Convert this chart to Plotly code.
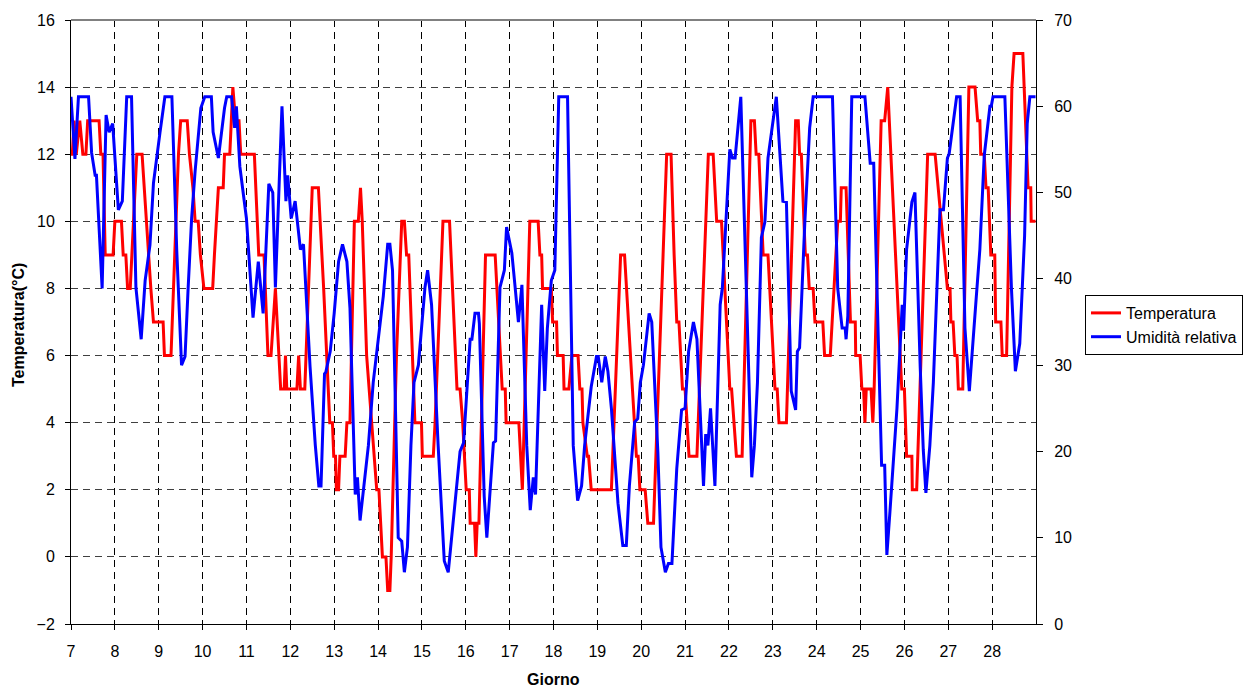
import plotly.graph_objects as go

# ---- data ----
temp_day = [7.0, 7.03, 7.07, 7.12, 7.2, 7.27, 7.34, 7.38, 7.64, 7.68, 7.73, 7.78, 7.96, 8.0, 8.15, 8.19,
            8.25, 8.29, 8.35, 8.45, 8.5, 8.62, 8.67, 8.72, 8.76, 8.82, 8.88, 8.95, 9.1, 9.13, 9.28, 9.45,
            9.5, 9.65, 9.7, 9.78, 9.83, 9.9, 9.95, 10.03, 10.23, 10.27, 10.31, 10.36, 10.47, 10.5, 10.62,
            10.69, 10.75, 10.83, 10.87, 11.18, 11.28, 11.4, 11.49, 11.56, 11.66, 11.78, 11.86, 11.89, 11.92,
            12.15, 12.19, 12.23, 12.33, 12.5, 12.64, 12.76, 12.9, 12.96, 12.99, 13.03, 13.05, 13.1, 13.13,
            13.25, 13.29, 13.36, 13.46, 13.55, 13.6, 13.64, 13.74, 13.97, 14.02, 14.1, 14.18, 14.22, 14.27,
            14.3, 14.42, 14.54, 14.6, 14.65, 14.7, 14.84, 14.99, 15.01, 15.26, 15.3, 15.48, 15.63, 15.8,
            15.87, 15.93, 16.01, 16.08, 16.1, 16.2, 16.23, 16.26, 16.3, 16.45, 16.67, 16.83, 16.9, 16.92,
            17.21, 17.29, 17.46, 17.65, 17.69, 17.73, 17.75, 17.95, 17.98, 18.07, 18.09, 18.22, 18.24, 18.35,
            18.42, 18.56, 18.6, 18.65, 18.67, 18.77, 18.8, 18.86, 19.32, 19.53, 19.62, 19.89, 19.93, 19.97,
            20.09, 20.15, 20.28, 20.58, 20.68, 20.75, 20.81, 20.86, 20.94, 21.0, 21.09, 21.27, 21.53, 21.64,
            21.72, 21.83, 22.02, 22.06, 22.12, 22.17, 22.3, 22.5, 22.58, 22.62, 22.68, 22.78, 22.89, 23.05,
            23.1, 23.14, 23.31, 23.52, 23.58, 23.61, 23.65, 23.74, 23.79, 23.83, 23.92, 23.96, 24.14, 24.18,
            24.31, 24.48, 24.54, 24.56, 24.67, 24.77, 24.88, 24.89, 24.99, 25.03, 25.07, 25.1, 25.13, 25.24,
            25.28, 25.31, 25.47, 25.55, 25.62, 25.94, 26.0, 26.05, 26.17, 26.18, 26.28, 26.53, 26.7, 26.98,
            27.04, 27.06, 27.11, 27.15, 27.2, 27.23, 27.33, 27.47, 27.61, 27.67, 27.72, 27.74, 27.82, 27.86,
            27.91, 27.97, 28.06, 28.08, 28.2, 28.23, 28.33, 28.45, 28.5, 28.7, 28.82, 28.88, 28.89, 28.99]
temp_val = [12, 12, 13, 12, 13, 12, 12, 13, 13, 12, 12, 9, 9, 10, 10, 9,
            9, 8, 8, 11, 12, 12, 11, 10, 9, 8, 7, 7, 7, 6, 6, 12,
            13, 13, 12, 11, 10, 10, 9, 8, 8, 9, 10, 11, 11, 12, 12,
            14, 13, 13, 12, 12, 9, 9, 6, 6, 8, 5, 5, 6, 5,
            5, 6, 5, 5, 11, 11, 8, 4, 4, 3, 3, 2, 2, 3,
            3, 4, 4, 10, 10, 11, 10, 6, 2, 2, 0, 0, -1, -1,
            0, 6, 10, 10, 9, 9, 4, 4, 3, 3, 4, 10, 10, 5,
            5, 4, 2, 2, 1, 1, 0, 1, 1, 9, 9, 5, 5, 4,
            4, 2, 10, 10, 9, 9, 8, 8, 7, 7, 6, 6, 5, 5,
            6, 6, 5, 5, 4, 3, 3, 2, 2, 9, 9, 3, 3, 2,
            2, 1, 1, 12, 12, 9, 7, 7, 5, 5, 3, 3, 12, 12,
            10, 10, 5, 5, 4, 3, 3, 13, 13, 12, 12, 9, 9, 5,
            5, 4, 4, 13, 13, 12, 12, 9, 9, 8, 8, 7, 7, 6,
            6, 10, 10, 11, 11, 7, 7, 6, 6, 5, 5, 4, 5, 5,
            4, 5, 13, 13, 14, 5, 5, 3, 3, 2, 2, 12, 12, 8,
            8, 7, 7, 6, 6, 5, 5, 14, 14, 13, 13, 12, 12, 11,
            11, 9, 9, 7, 7, 6, 6, 14, 15, 15, 11, 11, 10, 10]

hum_day = [7.0, 7.09, 7.17, 7.4, 7.47, 7.55, 7.58, 7.71, 7.8, 7.87, 7.95, 8.08, 8.17, 8.27, 8.38, 8.48,
           8.6, 8.69, 8.8, 8.88, 9.03, 9.14, 9.3, 9.41, 9.52, 9.6, 9.67, 9.75, 9.83, 9.96, 10.05, 10.2,
           10.24, 10.36, 10.5, 10.55, 10.66, 10.73, 10.77, 10.85, 10.95, 11.0, 11.15, 11.27, 11.38, 11.51,
           11.6, 11.66, 11.81, 11.9, 11.94, 12.02, 12.11, 12.23, 12.3, 12.45, 12.57, 12.65, 12.7, 12.78,
           12.81, 12.91, 13.0, 13.1, 13.19, 13.29, 13.36, 13.48, 13.53, 13.59, 13.78, 13.89, 14.12, 14.22,
           14.27, 14.33, 14.46, 14.54, 14.6, 14.67, 14.75, 14.82, 14.92, 15.07, 15.13, 15.22, 15.37, 15.51,
           15.6, 15.8, 15.87, 15.95, 16.1, 16.14, 16.21, 16.29, 16.31, 16.42, 16.48, 16.63, 16.68, 16.78,
           16.88, 16.93, 17.05, 17.12, 17.2, 17.28, 17.39, 17.47, 17.54, 17.59, 17.73, 17.8, 17.86, 17.95,
           18.03, 18.12, 18.32, 18.45, 18.55, 18.64, 18.71, 18.86, 18.98, 19.02, 19.1, 19.18, 19.24, 19.32,
           19.47, 19.58, 19.66, 19.73, 19.85, 19.92, 19.98, 20.05, 20.18, 20.24, 20.38, 20.45, 20.55, 20.62,
           20.7, 20.81, 20.92, 21.0, 21.08, 21.19, 21.27, 21.42, 21.47, 21.52, 21.58, 21.68, 21.8, 21.85,
           21.95, 22.02, 22.08, 22.14, 22.27, 22.52, 22.58, 22.65, 22.74, 22.82, 22.89, 23.08, 23.23, 23.31,
           23.42, 23.52, 23.56, 23.61, 23.73, 23.84, 23.92, 24.36, 24.48, 24.58, 24.65, 24.67, 24.71, 24.8,
           25.1, 25.22, 25.3, 25.37, 25.45, 25.48, 25.55, 25.6, 25.67, 25.83, 25.92, 25.95, 25.98, 26.05,
           26.17, 26.24, 26.36, 26.43, 26.49, 26.58, 26.66, 26.81, 26.89, 26.98, 27.02, 27.19, 27.27, 27.38,
           27.48, 27.53, 27.64, 27.72, 27.82, 27.95, 27.98, 28.02, 28.29, 28.44, 28.53, 28.63, 28.74, 28.8,
           28.86, 28.99]
hum_val = [61.1, 53.9, 61.1, 61.1, 54.6, 52, 52, 38.9, 59, 57, 58, 48, 49, 61.1, 61.1, 39,
           33, 39.8, 43.9, 51.1, 57, 61.1, 61.1, 43.4, 30, 31, 38.9, 47, 52.5, 59.8, 61.1, 61.1,
           57, 54, 59.8, 61.1, 61.1, 57.5, 60, 53, 49, 47, 35.5, 42, 36, 51,
           50, 39, 60, 49, 52, 47, 49, 43.4, 44, 29.8, 20.7, 16, 16, 29,
           29.2, 31.6, 36, 42, 44, 42, 36.6, 15, 17, 12, 20.7, 28, 38, 44,
           44, 41, 10, 9.6, 6, 8.9, 20.7, 28, 30, 39, 41, 37, 20.7, 7.3,
           6, 17, 20, 21, 33, 33, 36, 36, 34.8, 14.8, 10, 21, 21.2, 39,
           41, 46, 43, 39.3, 35, 39.3, 20.7, 13.2, 17, 15, 37, 27, 34.3, 39.8,
           41, 61.1, 61.1, 20.7, 14.3, 16, 20.7, 27.5, 31, 31, 28, 31, 29.3, 25,
           14, 9.1, 9.1, 16, 23.4, 23.8, 28, 30, 36, 35, 19.8, 8.9, 6, 7,
           7, 18, 24.8, 25, 31.6, 35, 33, 16, 22, 20.7, 25, 16, 37, 39,
           49, 55, 54, 54, 61.1, 17, 20.7, 28, 44.8, 46.6, 54, 61.1, 49, 48.9,
           27, 24.8, 31.6, 32, 46.6, 57.5, 61.1, 61.1, 38.9, 34.3, 34.3, 33, 35.7, 61.1,
           61.1, 53.4, 53.4, 38.9, 23.4, 18.4, 18.4, 8, 13, 25, 34, 37, 34, 43.4,
           48.9, 50, 29.8, 20.2, 15.2, 20.7, 28, 48, 48, 54, 54.5, 61.1, 61.1, 34.3,
           27, 30.7, 38, 43.4, 54.3, 60, 60, 61.1, 61.1, 38.9, 29.3, 32.5, 45, 58,
           61.1, 61.1]

day_ticks = list(range(7, 29))
temp_ticks = list(range(-2, 17, 2))
hum_ticks = list(range(0, 71, 10))

FONT = "Arial, Liberation Sans, sans-serif"
TICK_SIZE = 16

fig = go.Figure()
fig.add_trace(go.Scatter(x=temp_day, y=temp_val, mode="lines", name="Temperatura",
                         line=dict(color="#FF0000", width=3), yaxis="y"))
fig.add_trace(go.Scatter(x=hum_day, y=hum_val, mode="lines", name="Umidità relativa",
                         line=dict(color="#0000FF", width=3), yaxis="y2"))

# the page body adds an 8px offset, so the figure is 8px smaller and margins are shifted
fig.update_layout(
    width=1244, height=680,
    margin=dict(l=63, r=216, t=12, b=64, autoexpand=False),
    paper_bgcolor="white", plot_bgcolor="white",
    font=dict(family=FONT, size=TICK_SIZE, color="black"),
    showlegend=True,
    legend=dict(x=1.0508, y=0.5447, xanchor="left", yanchor="top",
                bordercolor="black", borderwidth=1, bgcolor="white",
                font=dict(family=FONT, size=16, color="black"),
                tracegroupgap=0, itemwidth=30),
    xaxis=dict(range=[7, 29], tickmode="array", tickvals=day_ticks,
               ticktext=[str(d) for d in day_ticks],
               showgrid=True, gridcolor="black", gridwidth=1, griddash="7px,5px",
               showline=True, linecolor="black", linewidth=1,
               ticks="outside", ticklen=5, tickcolor="black", ticklabelstandoff=8,
               zeroline=False,
               tickfont=dict(family=FONT, size=TICK_SIZE)),
    yaxis=dict(range=[-2, 16], tickmode="array", tickvals=temp_ticks,
               showgrid=True, gridcolor="#404040", gridwidth=1, griddash="7px,5px",
               showline=True, linecolor="black", linewidth=1,
               ticks="outside", ticklen=5, tickcolor="black", ticklabelstandoff=7,
               zeroline=False,
               tickfont=dict(family=FONT, size=TICK_SIZE)),
    yaxis2=dict(range=[0, 70], tickmode="array", tickvals=hum_ticks,
                overlaying="y", side="right", showgrid=False,
                showline=True, linecolor="black", linewidth=1,
                ticks="outside", ticklen=6, tickcolor="black", ticklabelstandoff=8,
                zeroline=False,
                tickfont=dict(family=FONT, size=TICK_SIZE)),
    shapes=[dict(type="line", xref="paper", yref="paper", x0=0, x1=1, y0=1, y1=1,
                 line=dict(color="#808080", width=2))],
    annotations=[
        dict(text="<b>Temperatura(°C)</b>", xref="paper", yref="paper",
             x=-0.0549, y=0.495, xanchor="center", yanchor="middle",
             textangle=-90, showarrow=False, font=dict(family=FONT, size=16)),
        dict(text="<b>Giorno</b>", xref="paper", yref="paper",
             x=0.4995, y=-0.0927, xanchor="center", yanchor="middle",
             showarrow=False, font=dict(family=FONT, size=16)),
    ],
)

fig.write_html("out.html")
